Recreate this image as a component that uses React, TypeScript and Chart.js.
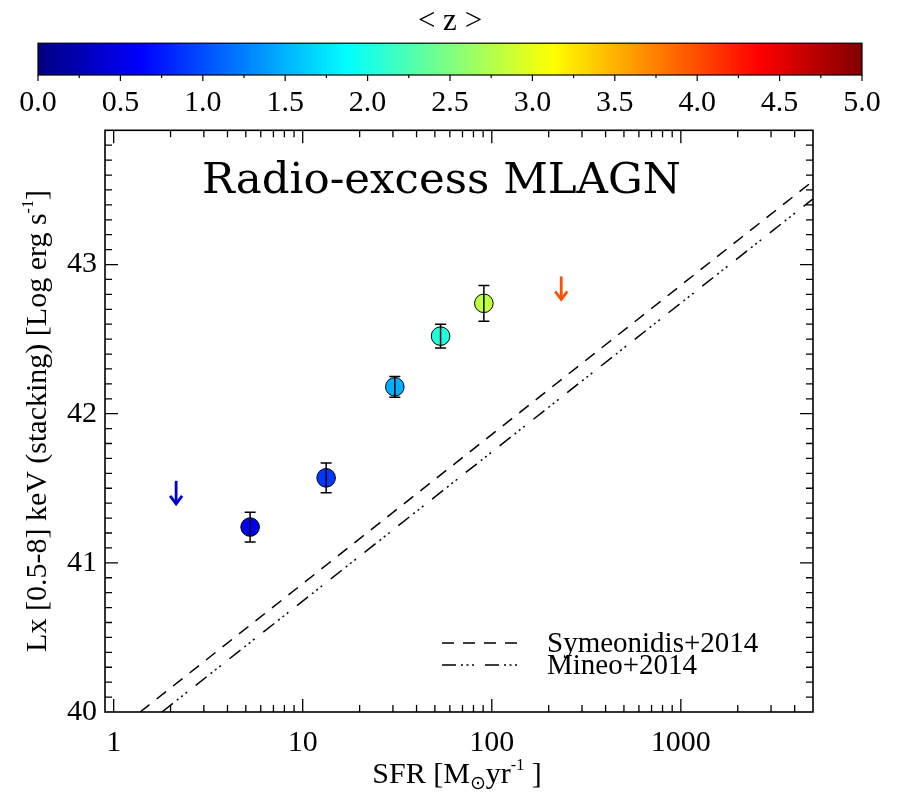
import React, { useEffect, useRef } from 'react';
import { Chart, registerables } from 'chart.js';

Chart.register(...registerables);

// ---------------- data ----------------
const sfr = [5.27, 13.3, 30.7, 53.6, 90.8];
const lx = [41.24, 41.57, 42.18, 42.52, 42.74];
const lxErrHi = [0.10, 0.10, 0.07, 0.08, 0.12];
const lxErrLo = [0.10, 0.10, 0.07, 0.08, 0.12];
const zMean = [0.55, 0.9, 1.49, 2.03, 2.81];

// upper limits (arrows)
const ulSfr = [2.14, 233];
const ulLx = [41.55, 42.92];
const ulZ = [0.375, 3.99];

// literature relations (end points)
const symSfr = [1.38, 5000];
const symLx = [40.0, 43.56];
const mineoSfr = [1.8, 5000];
const mineoLx = [40.0, 43.44];

const xTickValues = [1, 10, 100, 1000];
const xTickLabels = ['1', '10', '100', '1000'];
const yTickValues = [40, 41, 42, 43];
const yTickLabels = ['40', '41', '42', '43'];
const zTickValues = [0, 0.5, 1, 1.5, 2, 2.5, 3, 3.5, 4, 4.5, 5];
const zTickLabels = ['0.0', '0.5', '1.0', '1.5', '2.0', '2.5', '3.0', '3.5', '4.0', '4.5', '5.0'];

const titleText = 'Radio-excess MLAGN';
const zTitle = '< z >';
const symLabel = 'Symeonidis+2014';
const mineoLabel = 'Mineo+2014';

// ---------------- helpers ----------------
const Z_MIN = 0;
const Z_MAX = 5;
const clamp = (v: number) => Math.max(0, Math.min(1, v));
function jet(z: number) {
  const t = (z - Z_MIN) / (Z_MAX - Z_MIN);
  const r = clamp(Math.min(4 * t - 1.5, -4 * t + 4.5));
  const g = clamp(Math.min(4 * t - 0.5, -4 * t + 3.5));
  const b = clamp(Math.min(4 * t + 0.5, -4 * t + 2.5));
  return `rgb(${Math.round(r * 255)},${Math.round(g * 255)},${Math.round(b * 255)})`;
}

const SERIF = "'Liberation Serif'";
const F30 = `30px ${SERIF}`;
const FLEG = `29px ${SERIF}`;
const FSUP = `16px ${SERIF}`;

type Part = { t: string; f: string; dy?: number };
function drawRich(ctx: CanvasRenderingContext2D, parts: Part[], x: number, y: number) {
  let total = 0;
  parts.forEach((p) => { ctx.font = p.f; total += ctx.measureText(p.t).width; });
  let cx = x - total / 2;
  ctx.textAlign = 'left';
  ctx.textBaseline = 'alphabetic';
  parts.forEach((p) => {
    ctx.font = p.f;
    ctx.fillText(p.t, cx, y + (p.dy || 0));
    cx += ctx.measureText(p.t).width;
  });
}

const MAIN_TOP = 120; // page offset of the main canvas

// ---------------- colour bar chart ----------------
const colorbarPlugin = {
  id: 'colorbarDecor',
  beforeDatasetsDraw(chart: any) {
    const { ctx, chartArea: a, scales } = chart;
    const xs = scales.x;
    ctx.save();
    const grad = ctx.createLinearGradient(xs.getPixelForValue(Z_MIN), 0, xs.getPixelForValue(Z_MAX), 0);
    [0, 0.125, 0.375, 0.625, 0.875, 1].forEach((s) => grad.addColorStop(s, jet(Z_MIN + s * (Z_MAX - Z_MIN))));
    ctx.fillStyle = grad;
    ctx.fillRect(a.left, a.top, a.right - a.left, a.bottom - a.top);
    ctx.strokeStyle = '#000';
    ctx.lineWidth = 1.2;
    ctx.strokeRect(a.left, a.top, a.right - a.left, a.bottom - a.top);
    ctx.lineWidth = 1.2;
    for (let z = Z_MIN; z <= Z_MAX + 1e-9; z += 0.25) {
      const px = xs.getPixelForValue(z);
      const major = Math.abs(z * 2 - Math.round(z * 2)) < 1e-6;
      ctx.beginPath();
      ctx.moveTo(px, a.bottom);
      ctx.lineTo(px, a.bottom + (major ? 6 : 3));
      ctx.stroke();
    }
    ctx.restore();
  },
};

// ---------------- main chart decorations ----------------
const mainPlugin = {
  id: 'mainDecor',
  afterDatasetsDraw(chart: any) {
    const { ctx, chartArea: a, scales } = chart;
    const xs = scales.x;
    const ys = scales.y;
    ctx.save();

    // error bars
    ctx.strokeStyle = '#000';
    ctx.lineWidth = 1.5;
    sfr.forEach((v, i) => {
      const px = xs.getPixelForValue(v);
      const top = ys.getPixelForValue(lx[i] + lxErrHi[i]);
      const bot = ys.getPixelForValue(lx[i] - lxErrLo[i]);
      ctx.beginPath();
      ctx.moveTo(px, top); ctx.lineTo(px, bot);
      ctx.moveTo(px - 5.5, top); ctx.lineTo(px + 5.5, top);
      ctx.moveTo(px - 5.5, bot); ctx.lineTo(px + 5.5, bot);
      ctx.stroke();
    });

    // upper-limit arrows
    const ulMeta = chart.getDatasetMeta(1);
    ulMeta.data.forEach((el: any, i: number) => {
      const px = el.x;
      const py = el.y;
      ctx.strokeStyle = jet(ulZ[i]);
      ctx.lineWidth = 2.8;
      ctx.lineCap = 'butt';
      ctx.beginPath();
      ctx.moveTo(px, py);
      ctx.lineTo(px, py + 23);
      ctx.stroke();
      ctx.beginPath();
      ctx.moveTo(px - 6, py + 15);
      ctx.lineTo(px, py + 23);
      ctx.lineTo(px + 6, py + 15);
      ctx.stroke();
    });

    // frame
    ctx.strokeStyle = '#000';
    ctx.lineWidth = 1.6;
    ctx.setLineDash([]);
    ctx.strokeRect(a.left, a.top, a.right - a.left, a.bottom - a.top);

    // inward ticks
    ctx.lineWidth = 1.3;
    const MAJ = 13;
    const MIN = 7;
    for (let d = -1; d <= 4; d++) {
      for (let m = 1; m <= 9; m++) {
        const v = m * Math.pow(10, d);
        if (v <= xs.min * 1.0001 || v >= xs.max * 0.9999) continue;
        const px = xs.getPixelForValue(v);
        const len = m === 1 ? MAJ : MIN;
        ctx.beginPath();
        ctx.moveTo(px, a.bottom); ctx.lineTo(px, a.bottom - len);
        ctx.moveTo(px, a.top); ctx.lineTo(px, a.top + len);
        ctx.stroke();
      }
    }
    for (let k = Math.round(ys.min * 10) + 1; k < Math.round(ys.max * 10); k++) {
      const py = ys.getPixelForValue(k / 10);
      const len = k % 10 === 0 ? MAJ : MIN;
      ctx.beginPath();
      ctx.moveTo(a.left, py); ctx.lineTo(a.left + len, py);
      ctx.moveTo(a.right, py); ctx.lineTo(a.right - len, py);
      ctx.stroke();
    }

    // plot title
    ctx.fillStyle = '#000';
    ctx.font = "43.5px 'DejaVu Serif'";
    ctx.textAlign = 'left';
    ctx.textBaseline = 'alphabetic';
    ctx.fillText(titleText, 202, 193 - MAIN_TOP);

    // legend
    [2, 3].forEach((di, i) => {
      const ds: any = chart.data.datasets[di];
      const ly = 643 - MAIN_TOP + i * 22;
      ctx.strokeStyle = '#000';
      ctx.lineWidth = 1.6;
      ctx.setLineDash(ds.borderDash);
      ctx.beginPath();
      ctx.moveTo(442, ly);
      ctx.lineTo(521, ly);
      ctx.stroke();
      ctx.setLineDash([]);
      ctx.font = FLEG;
      ctx.textAlign = 'left';
      ctx.textBaseline = 'alphabetic';
      ctx.fillText(ds.label, 547, ly + 9);
    });

    // axis titles
    ctx.fillStyle = '#000';
    drawRich(ctx, [
      { t: 'SFR [M', f: F30 },
      { t: '\u2299', f: "19px 'DejaVu Sans'", dy: 6 },
      { t: 'yr', f: F30 },
      { t: '-1', f: FSUP, dy: -13 },
      { t: ' ]', f: F30 },
    ], 457, 783 - MAIN_TOP);

    ctx.save();
    ctx.translate(46, 421 - MAIN_TOP);
    ctx.rotate(-Math.PI / 2);
    drawRich(ctx, [
      { t: 'Lx [0.5-8] keV (stacking) [Log erg s', f: F30 },
      { t: '-1', f: FSUP, dy: -13 },
      { t: ']', f: F30 },
    ], 0, 0);
    ctx.restore();

    ctx.restore();
  },
};

function zeroPad(s: any) {
  s.paddingLeft = 0;
  s.paddingRight = 0;
  s.paddingTop = 0;
  s.paddingBottom = 0;
}

export default function App() {
  const barRef = useRef<HTMLCanvasElement>(null);
  const mainRef = useRef<HTMLCanvasElement>(null);

  useEffect(() => {
    let bar: any = null;
    let main: any = null;
    let cancelled = false;

    const build = () => {
      if (cancelled || !barRef.current || !mainRef.current) return;
      bar = new Chart(barRef.current, {
        type: 'scatter',
        data: { datasets: [] },
        options: {
          responsive: false,
          animation: false,
          layout: { padding: { left: 38, right: 43, top: 0, bottom: 0 } },
          plugins: {
            legend: { display: false },
            tooltip: { enabled: false },
            title: {
              display: true,
              text: zTitle,
              color: '#000',
              font: { family: SERIF, size: 31, weight: 'normal' },
              padding: { top: 3, bottom: 3 },
            },
          },
          scales: {
            x: {
              type: 'linear',
              min: Z_MIN,
              max: Z_MAX,
              grid: { display: false, drawTicks: false },
              border: { display: false },
              afterBuildTicks: (s: any) => { s.ticks = zTickValues.map((v) => ({ value: v })); },
              ticks: {
                autoSkip: false,
                maxRotation: 0,
                color: '#000',
                padding: 10,
                font: { family: SERIF, size: 30 },
                callback: (v: any) => {
                  const i = zTickValues.findIndex((t) => Math.abs(t - v) < 1e-9);
                  return i >= 0 ? zTickLabels[i] : '';
                },
              },
              afterFit: (s: any) => { s.height = 128 - 75; zeroPad(s); },
            },
            y: { display: false, min: 0, max: 1 },
          },
        } as any,
        plugins: [colorbarPlugin],
      });

      main = new Chart(mainRef.current, {
        type: 'scatter',
        data: {
          datasets: [
            {
              label: 'Radio-excess MLAGN stacks',
              data: sfr.map((x, i) => ({ x, y: lx[i] })),
              backgroundColor: zMean.map(jet),
              borderColor: '#000',
              borderWidth: 1,
              pointRadius: 9.3,
              pointHoverRadius: 9.3,
            },
            {
              label: 'Upper limits',
              data: ulSfr.map((x, i) => ({ x, y: ulLx[i] })),
              pointRadius: 0,
              pointHoverRadius: 0,
            },
            {
              type: 'line',
              label: symLabel,
              data: symSfr.map((x, i) => ({ x, y: symLx[i] })),
              borderColor: '#000',
              borderWidth: 1.5,
              borderDash: [12, 9],
              pointRadius: 0,
              fill: false,
              showLine: true,
            },
            {
              type: 'line',
              label: mineoLabel,
              data: mineoSfr.map((x, i) => ({ x, y: mineoLx[i] })),
              borderColor: '#000',
              borderWidth: 1.5,
              borderDash: [14, 5, 2, 3.5, 2, 3.5, 2, 11],
              pointRadius: 0,
              fill: false,
              showLine: true,
            },
          ],
        } as any,
        options: {
          responsive: false,
          animation: false,
          layout: { padding: { top: 9, right: 92, left: 0, bottom: 0 } },
          plugins: {
            legend: { display: false },
            tooltip: { enabled: false },
            title: { display: false },
          },
          scales: {
            x: {
              type: 'logarithmic',
              min: 0.9,
              max: 5000,
              grid: { display: false, drawTicks: false },
              border: { display: false },
              afterBuildTicks: (s: any) => { s.ticks = xTickValues.map((v) => ({ value: v })); },
              ticks: {
                autoSkip: false,
                maxRotation: 0,
                color: '#000',
                padding: 13,
                font: { family: SERIF, size: 30 },
                callback: (v: any) => {
                  const i = xTickValues.findIndex((t) => Math.abs(t - v) < 1e-9);
                  return i >= 0 ? xTickLabels[i] : '';
                },
              },
              afterFit: (s: any) => { s.height = 80; zeroPad(s); },
            },
            y: {
              type: 'linear',
              min: 40,
              max: 43.9,
              grid: { display: false, drawTicks: false },
              border: { display: false },
              afterBuildTicks: (s: any) => { s.ticks = yTickValues.map((v) => ({ value: v })); },
              ticks: {
                autoSkip: false,
                color: '#000',
                padding: 8,
                font: { family: SERIF, size: 30 },
                callback: (v: any) => {
                  const i = yTickValues.findIndex((t) => Math.abs(t - v) < 1e-9);
                  return i >= 0 ? yTickLabels[i] : '';
                },
              },
              afterFit: (s: any) => { s.width = 105; zeroPad(s); },
            },
          },
        } as any,
        plugins: [mainPlugin],
      });
    };

    const fontsApi: any = (document as any).fonts;
    if (fontsApi && fontsApi.load) {
      Promise.all([
        fontsApi.load("30px 'Liberation Serif'"),
        fontsApi.load("45px 'DejaVu Serif'"),
        fontsApi.load("19px 'DejaVu Sans'"),
      ]).then(build, build);
    } else {
      build();
    }

    return () => {
      cancelled = true;
      if (bar) bar.destroy();
      if (main) main.destroy();
    };
  }, []);

  return (
    <div style={{ position: 'absolute', left: 0, top: 0, width: 905, height: 792, background: '#fff' }}>
      <canvas
        ref={barRef}
        width={905}
        height={128}
        style={{ position: 'absolute', left: 0, top: 0, width: 905, height: 128 }}
      />
      <canvas
        ref={mainRef}
        width={905}
        height={672}
        style={{ position: 'absolute', left: 0, top: MAIN_TOP, width: 905, height: 672 }}
      />
    </div>
  );
}
